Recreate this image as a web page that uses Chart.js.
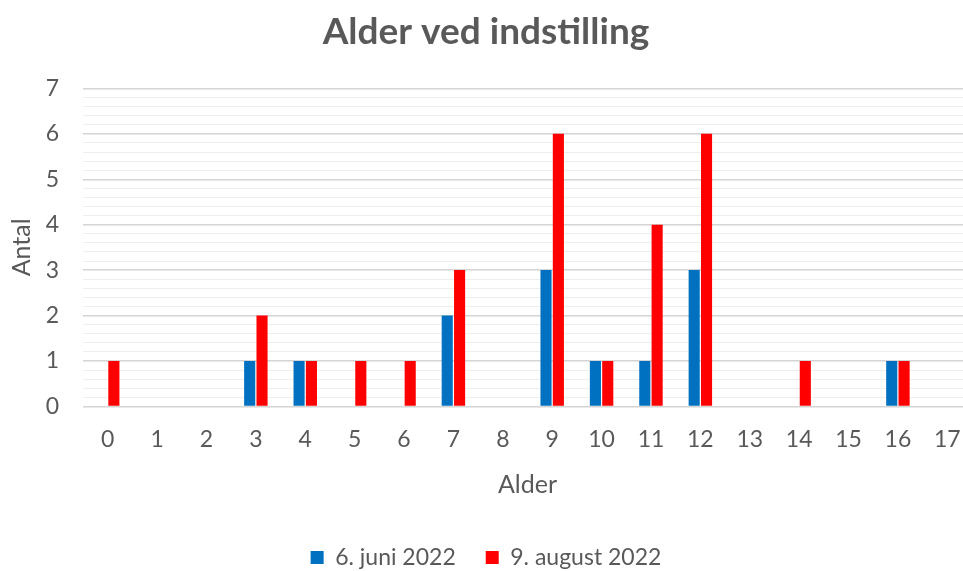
<!DOCTYPE html>
<html>
<head>
<meta charset="utf-8">
<script src="https://cdn.jsdelivr.net/npm/chart.js@4"></script>
<style>
    html, body { margin: 0; padding: 0; background: #fff; overflow: hidden; }
    #wrap { width: 972px; height: 579px; }
</style>
</head>
<body>
<div id="wrap"><canvas id="grafAlder"></canvas></div>
<script>
// data
const alder = ['0','1','2','3','4','5','6','7','8','9','10','11','12','13','14','15','16','17'];
const juni2022   = [0,0,0,1,1,0,0,2,0,3,1,1,3,0,0,0,1,0];
const august2022 = [1,0,0,2,1,1,1,3,0,6,1,4,6,0,1,0,1,0];
const serieNavne = ['6. juni 2022', '9. august 2022'];

const gra = '#595959';
const skrift = 'Lato, "Open Sans", sans-serif';

const erHel = v => Math.abs(v - Math.round(v)) < 1e-6;

new Chart(document.getElementById('grafAlder'), {
    type: 'bar',
    data: {
        labels: alder,
        datasets: [
            { label: serieNavne[0], data: juni2022, backgroundColor: '#0070C0' },
            { label: serieNavne[1], data: august2022, backgroundColor: '#FF0000' }
        ]
    },
    options: {
        responsive: true,
        maintainAspectRatio: false,
        animation: false,
        categoryPercentage: 0.5,
        barPercentage: 0.9,
        layout: { padding: { top: 6, left: 0, right: 0, bottom: 0 } },
        plugins: {
            title: {
                display: true,
                text: 'Alder ved indstilling',
                color: gra,
                font: { family: skrift, size: 37, weight: 'bold' },
                padding: { top: 4, bottom: 34 }
            },
            legend: {
                position: 'bottom',
                labels: {
                    color: gra,
                    font: { family: skrift, size: 23 },
                    boxWidth: 13,
                    boxHeight: 13,
                    padding: 30
                }
            },
            tooltip: { enabled: false }
        },
        scales: {
            x: {
                grid: { display: false },
                border: { display: false },
                ticks: { color: gra, font: { family: skrift, size: 23 }, padding: 11 },
                title: {
                    display: true,
                    text: 'Alder',
                    color: gra,
                    font: { family: skrift, size: 25 },
                    padding: { top: 6, bottom: 16 }
                }
            },
            y: {
                min: 0,
                max: 7,
                border: { display: false },
                afterFit: s => { s.width = 83; },
                grid: {
                    drawTicks: false,
                    color: ctx => erHel(ctx.tick.value) ? '#d4d4d4' : '#eeeeee',
                    lineWidth: ctx => erHel(ctx.tick.value) ? 1.5 : 1
                },
                ticks: {
                    stepSize: 0.2,
                    autoSkip: false,
                    color: gra,
                    font: { family: skrift, size: 23 },
                    padding: 24,
                    callback: v => erHel(v) ? String(Math.round(v)) : ''
                },
                title: {
                    display: true,
                    text: 'Antal',
                    color: gra,
                    font: { family: skrift, size: 25 },
                    padding: { top: 7, bottom: 0 }
                }
            }
        }
    }
});
</script>
</body>
</html>
